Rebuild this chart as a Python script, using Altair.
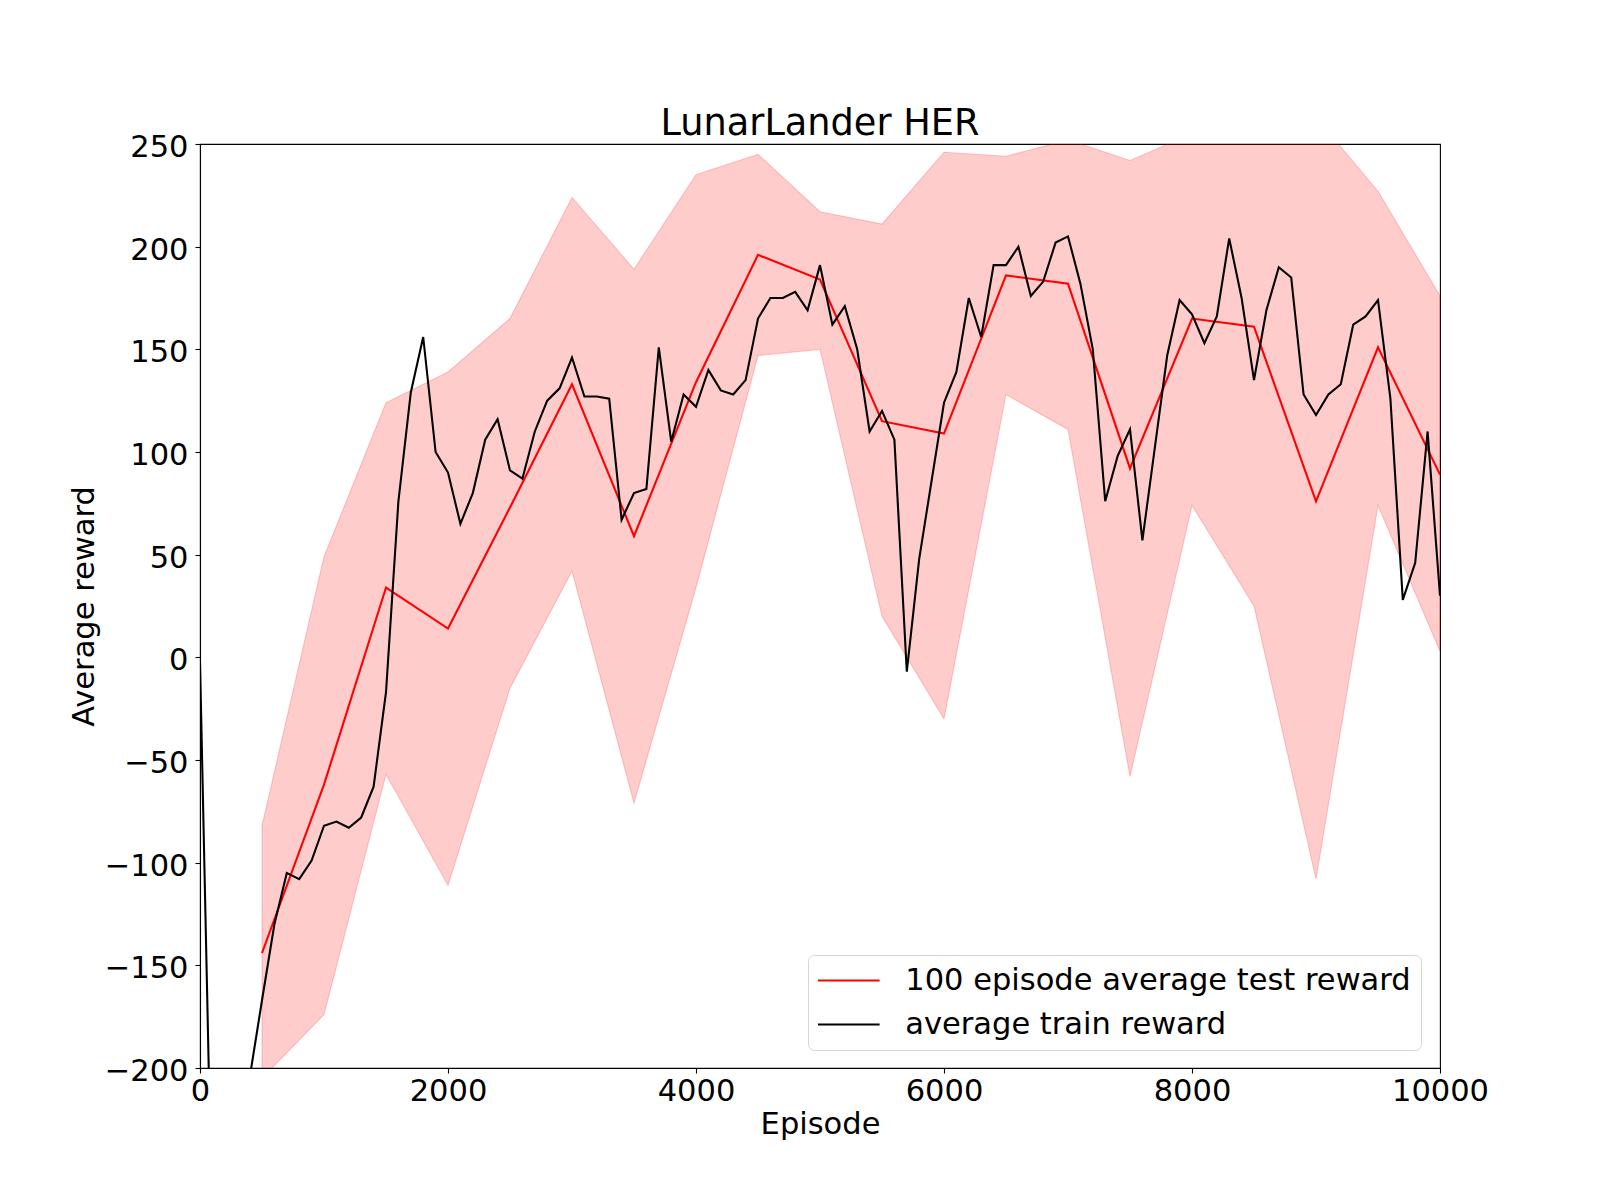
import altair as alt
import pandas as pd

# ---- data ----
test_episodes = list(range(500, 10001, 500))
test_mean = [-144, -62, 34, 14, 73, 133, 59, 134, 196, 184,
             115, 109, 186, 182, 92, 165, 161, 76, 151, 89]
test_upper = [-82, 49, 124, 139, 165, 224, 189, 235, 245, 217,
              211, 246, 244, 252, 242, 255, 258, 263, 227, 176]
test_lower = [-205, -174, -57, -111, -15, 42, -71, 34, 147, 150,
              20, -30, 128, 111, -58, 74, 25, -108, 74, 3]

train_episodes = list(range(0, 10001, 100))
train_reward = [
    -2, -283, -300, -265, -205, -167, -130, -105, -108, -99,
    -82, -80, -83, -78, -63, -17, 76, 129, 156, 100,
    90, 65, 80, 106, 116, 91, 87, 110, 125, 131,
    146, 127, 127, 126, 67, 80, 82, 151, 105, 128,
    122, 140, 130, 128, 135, 165, 175, 175, 178, 169,
    191, 162, 171, 150, 110, 120, 106, -7, 48, 86,
    124, 139, 175, 156, 191, 191, 200, 176, 183, 202,
    205, 182, 150, 76, 98, 111, 57, 102, 147, 174,
    167, 153, 166, 204, 175, 135, 169, 190, 185, 128,
    118, 128, 133, 162, 166, 174, 126, 28, 46, 110,
    30,
]

test_label = "100 episode average test reward"
train_label = "average train reward"

x_ticks = [0, 2000, 4000, 6000, 8000, 10000]
y_ticks = list(range(-200, 251, 50))

band = pd.DataFrame({"episode": test_episodes, "lower": test_lower, "upper": test_upper})
lines = pd.concat([
    pd.DataFrame({"episode": test_episodes, "reward": test_mean, "series": test_label}),
    pd.DataFrame({"episode": train_episodes, "reward": train_reward, "series": train_label}),
], ignore_index=True)

FONT = "DejaVu Sans"
FS = 30.5

x_scale = alt.Scale(domain=[0, 10000], nice=False, zero=False)
y_scale = alt.Scale(domain=[-200, 250], nice=False, zero=False)

x_axis = alt.Axis(values=x_ticks, format="d", title="Episode", grid=False,
                  labelFontSize=FS, titleFontSize=FS, labelPadding=3.5, labelFlush=False,
                  titleBaseline="alphabetic", titleY=65, titleFontWeight="normal",
                  zindex=1)
y_axis = alt.Axis(values=y_ticks, format="d", title="Average reward", grid=False,
                  labelFontSize=FS, titleFontSize=FS, labelPadding=7, labelOffset=3.5,
                  labelFlush=False,
                  titleBaseline="alphabetic", titleX=-107, titleFontWeight="normal",
                  zindex=1)

area = alt.Chart(band).mark_area(
    clip=True, color="#ff0000", fillOpacity=0.2,
    stroke="#ff0000", strokeOpacity=0.2, strokeWidth=1.1
).encode(
    x=alt.X("episode:Q", scale=x_scale, axis=x_axis),
    y=alt.Y("lower:Q", scale=y_scale, axis=y_axis),
    y2="upper:Q",
)

line = alt.Chart(lines).mark_line(clip=True, strokeWidth=2.08).encode(
    x=alt.X("episode:Q", scale=x_scale),
    y=alt.Y("reward:Q", scale=y_scale),
    color=alt.Color(
        "series:N",
        scale=alt.Scale(domain=[test_label, train_label], range=["#ff0000", "#000000"]),
        legend=alt.Legend(
            title=None, orient="none", legendX=608, legendY=811,
            symbolType="M-2.2,0H2.2", symbolSize=784, symbolStrokeWidth=2.08,
            symbolOffset=15.3, labelOffset=41, labelFontSize=FS, labelFont=FONT,
            labelLimit=1000, labelColor="black", rowPadding=13, padding=10,
            strokeColor="#d6d6d6", fillColor="rgba(255,255,255,0.8)", cornerRadius=6,
        ),
    ),
    detail="series:N",
)

chart = alt.layer(area, line).properties(
    width=1240,
    height=924,
    title=alt.TitleParams("LunarLander HER", fontSize=36.7, font=FONT, fontWeight="normal",
                          offset=8, dy=47, baseline="alphabetic", anchor="middle", color="black"),
    autosize=alt.AutoSizeParams(type="none"),
    padding={"left": 192, "top": 136, "right": 152, "bottom": 124},
).configure(
    font=FONT,
).configure_view(
    stroke="black", strokeWidth=1.1,
).configure_axis(
    domainColor="black", domainWidth=1.1, tickColor="black", tickWidth=1.1, tickSize=5,
    labelColor="black", titleColor="black", labelFont=FONT, titleFont=FONT,
)

chart.save("out.html", embed_options={"renderer": "svg", "actions": False})
